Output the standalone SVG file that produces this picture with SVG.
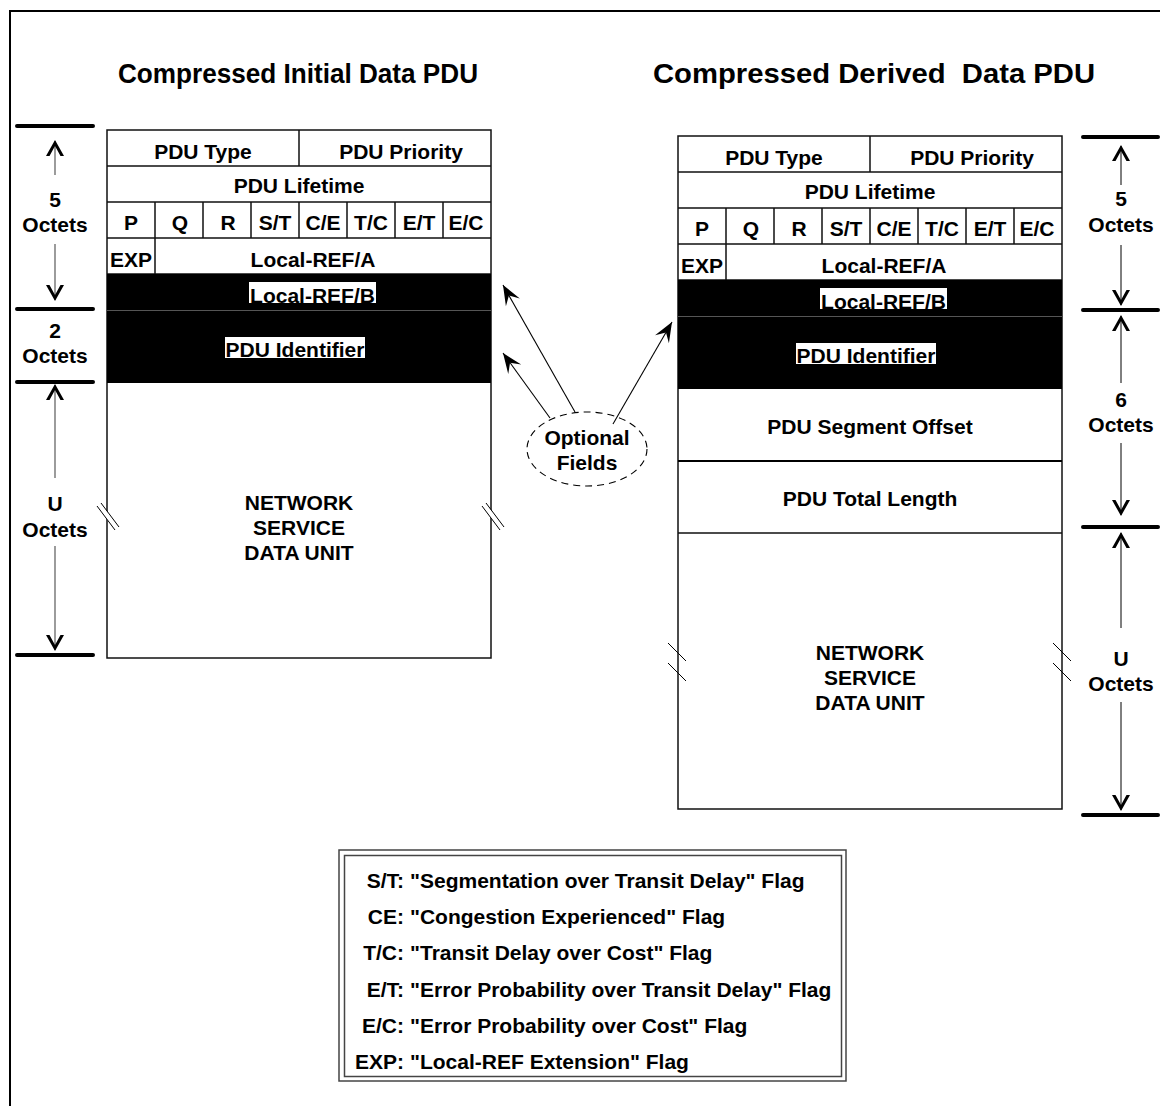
<svg xmlns="http://www.w3.org/2000/svg" width="1160" height="1106" viewBox="0 0 1160 1106">
<style>
  text { font-family: "Liberation Sans", Arial, sans-serif; font-weight: bold; fill: #000; }
  .t { font-size: 21px; text-anchor: middle; }
  .title { font-size: 27px; text-anchor: middle; }
  .lg { font-size: 21px; }
  .lgl { font-size: 21px; text-anchor: end; }
  .box { fill: #fff; stroke: #111; stroke-width: 1.5; }
  .ln { stroke: #111; stroke-width: 1.5; fill: none; }
  .blk { fill: #000; }
  .hl { fill: #fff; }
  .sep { stroke: #555; stroke-width: 1; }
  .brk { stroke: #000; stroke-width: 1; fill: none; }
  .bar { stroke: #000; stroke-width: 4; stroke-linecap: round; }
  .dimL { stroke: #666; stroke-width: 1.3; fill: none; marker-end: url(#dimhead); }
  .dimR { stroke: #000; stroke-width: 1; fill: none; marker-end: url(#dimhead); }
  .conn { stroke: #000; stroke-width: 1.1; fill: none; marker-end: url(#opthead); }
  .legbox { fill: none; stroke: #444; stroke-width: 1.5; }
</style>
<defs>
  <marker id="dimhead" markerUnits="userSpaceOnUse" markerWidth="20" markerHeight="20" viewBox="-17 -10 20 20" refX="0" refY="0" orient="auto">
    <path d="M1,0 L-15,-9 L-15,-5.5 L-5,0 L-15,5.5 L-15,9 Z" fill="#000"/>
  </marker>
  <marker id="opthead" markerUnits="userSpaceOnUse" markerWidth="24" markerHeight="24" viewBox="-22 -12 24 24" refX="0" refY="0" orient="auto">
    <path d="M0,0 L-20,-8 L-12,0 L-20,8 Z" fill="#000"/>
  </marker>
</defs>

<rect width="1160" height="1106" fill="#fff"/>
<path d="M10,1106 V11 H1160" fill="none" stroke="#000" stroke-width="2"/>

<g id="titles">
  <text class="title" x="298" y="83" textLength="360" lengthAdjust="spacingAndGlyphs">Compressed Initial Data PDU</text>
  <text class="title" x="874" y="83" textLength="442" lengthAdjust="spacingAndGlyphs">Compressed Derived&#160; Data PDU</text>
</g>

<g id="initial-pdu">
  <rect class="box" x="107" y="130" width="384" height="528"/>
  <path class="ln" d="M107,166 H491 M107,202 H491 M107,238 H491 M107,274 H491 M299,130 V166 M155,202 V238 M203,202 V238 M251,202 V238 M299,202 V238 M347,202 V238 M395,202 V238 M443,202 V238 M155,238 V274"/>
  <rect class="blk" x="107" y="274" width="384" height="109"/>
  <line class="sep" x1="107" y1="310.5" x2="491" y2="310.5"/>
  <text class="t" x="203" y="159">PDU Type</text>
  <text class="t" x="401" y="159">PDU Priority</text>
  <text class="t" x="299" y="193">PDU Lifetime</text>
  <text class="t" x="131" y="230">P</text>
  <text class="t" x="180" y="230">Q</text>
  <text class="t" x="228" y="230">R</text>
  <text class="t" x="275" y="230">S/T</text>
  <text class="t" x="323" y="230">C/E</text>
  <text class="t" x="371" y="230">T/C</text>
  <text class="t" x="419" y="230">E/T</text>
  <text class="t" x="466" y="230">E/C</text>
  <text class="t" x="131" y="267">EXP</text>
  <text class="t" x="313" y="267">Local-REF/A</text>
  <rect class="hl" x="249" y="282" width="127" height="21"/>
  <text class="t" x="312.5" y="303">Local-REF/B</text>
  <rect class="hl" x="225" y="337" width="140" height="21"/>
  <text class="t" x="295" y="357">PDU Identifier</text>
  <text class="t" x="299" y="510">NETWORK</text>
  <text class="t" x="299" y="535">SERVICE</text>
  <text class="t" x="299" y="560">DATA UNIT</text>
  <path d="M98,508 L102,505 L120,528 L116,531 Z" fill="#fff"/>
  <path class="brk" d="M97,506 L115,530 M101,503 L119,527"/>
  <path d="M483,508 L487,505 L505,528 L501,531 Z" fill="#fff"/>
  <path class="brk" d="M482,506 L500,530 M486,503 L504,527"/>
</g>

<g id="derived-pdu">
  <rect class="box" x="678" y="136" width="384" height="673"/>
  <path class="ln" d="M678,172 H1062 M678,208 H1062 M678,244 H1062 M678,280 H1062 M870,136 V172 M726,208 V244 M774,208 V244 M822,208 V244 M870,208 V244 M918,208 V244 M966,208 V244 M1014,208 V244 M726,244 V280 M678,533 H1062"/>
  <line x1="678" y1="461" x2="1062" y2="461" stroke="#000" stroke-width="2.2"/>
  <rect class="blk" x="678" y="280" width="384" height="109"/>
  <line class="sep" x1="678" y1="316.5" x2="1062" y2="316.5"/>
  <text class="t" x="774" y="165">PDU Type</text>
  <text class="t" x="972" y="165">PDU Priority</text>
  <text class="t" x="870" y="199">PDU Lifetime</text>
  <text class="t" x="702" y="236">P</text>
  <text class="t" x="751" y="236">Q</text>
  <text class="t" x="799" y="236">R</text>
  <text class="t" x="846" y="236">S/T</text>
  <text class="t" x="894" y="236">C/E</text>
  <text class="t" x="942" y="236">T/C</text>
  <text class="t" x="990" y="236">E/T</text>
  <text class="t" x="1037" y="236">E/C</text>
  <text class="t" x="702" y="273">EXP</text>
  <text class="t" x="884" y="273">Local-REF/A</text>
  <rect class="hl" x="820" y="288" width="127" height="21"/>
  <text class="t" x="883.5" y="309">Local-REF/B</text>
  <rect class="hl" x="796" y="343" width="140" height="21"/>
  <text class="t" x="866" y="363">PDU Identifier</text>
  <text class="t" x="870" y="434">PDU Segment Offset</text>
  <text class="t" x="870" y="506">PDU Total Length</text>
  <text class="t" x="870" y="660">NETWORK</text>
  <text class="t" x="870" y="685">SERVICE</text>
  <text class="t" x="870" y="710">DATA UNIT</text>
  <path class="brk" d="M668,643 L686,661 M668,663 L686,681 M1053,643 L1071,661 M1053,663 L1071,681"/>
</g>

<g id="initial-octets">
  <path class="bar" d="M17,126 H93 M17,309 H93 M17,382 H93 M17,655 H93"/>
  <line class="dimL" x1="55" y1="175" x2="55" y2="141"/>
  <line class="dimL" x1="55" y1="244" x2="55" y2="300"/>
  <text class="t" x="55" y="207">5</text>
  <text class="t" x="55" y="232">Octets</text>
  <text class="t" x="55" y="338">2</text>
  <text class="t" x="55" y="363">Octets</text>
  <line class="dimL" x1="55" y1="478" x2="55" y2="385"/>
  <line class="dimL" x1="55" y1="546" x2="55" y2="650"/>
  <text class="t" x="55" y="511">U</text>
  <text class="t" x="55" y="537">Octets</text>
</g>

<g id="derived-octets">
  <path class="bar" d="M1083,137 H1158 M1083,310 H1158 M1083,527 H1158 M1083,815 H1158"/>
  <line class="dimR" x1="1121" y1="185" x2="1121" y2="146"/>
  <line class="dimR" x1="1121" y1="245" x2="1121" y2="305"/>
  <text class="t" x="1121" y="206">5</text>
  <text class="t" x="1121" y="232">Octets</text>
  <line class="dimR" x1="1121" y1="383" x2="1121" y2="316"/>
  <line class="dimR" x1="1121" y1="443" x2="1121" y2="515"/>
  <text class="t" x="1121" y="407">6</text>
  <text class="t" x="1121" y="432">Octets</text>
  <line class="dimR" x1="1121" y1="628" x2="1121" y2="533"/>
  <line class="dimR" x1="1121" y1="702" x2="1121" y2="810"/>
  <text class="t" x="1121" y="666">U</text>
  <text class="t" x="1121" y="691">Octets</text>
</g>

<g id="optional-fields">
  <ellipse cx="587" cy="449" rx="60" ry="37" fill="#fff" stroke="#000" stroke-width="1.1" stroke-dasharray="7,5"/>
  <text class="t" x="587" y="445">Optional</text>
  <text class="t" x="587" y="470">Fields</text>
</g>

<g id="connectors">
  <line class="conn" x1="550" y1="418" x2="503" y2="353"/>
  <line class="conn" x1="575" y1="412" x2="503" y2="285"/>
  <line class="conn" x1="613" y1="424" x2="672" y2="322"/>
</g>

<g id="legend">
  <rect class="legbox" x="339" y="850" width="507" height="231"/>
  <rect class="legbox" x="344.5" y="855.5" width="497" height="221"/>
  <text class="lgl" x="404" y="888">S/T:</text>
  <text class="lg" x="410" y="888">"Segmentation over Transit Delay" Flag</text>
  <text class="lgl" x="404" y="924">CE:</text>
  <text class="lg" x="410" y="924">"Congestion Experienced" Flag</text>
  <text class="lgl" x="404" y="960">T/C:</text>
  <text class="lg" x="410" y="960">"Transit Delay over Cost" Flag</text>
  <text class="lgl" x="404" y="997">E/T:</text>
  <text class="lg" x="410" y="997">"Error Probability over Transit Delay" Flag</text>
  <text class="lgl" x="404" y="1033">E/C:</text>
  <text class="lg" x="410" y="1033">"Error Probability over Cost" Flag</text>
  <text class="lgl" x="404" y="1069">EXP:</text>
  <text class="lg" x="410" y="1069">"Local-REF Extension" Flag</text>
</g>
</svg>
